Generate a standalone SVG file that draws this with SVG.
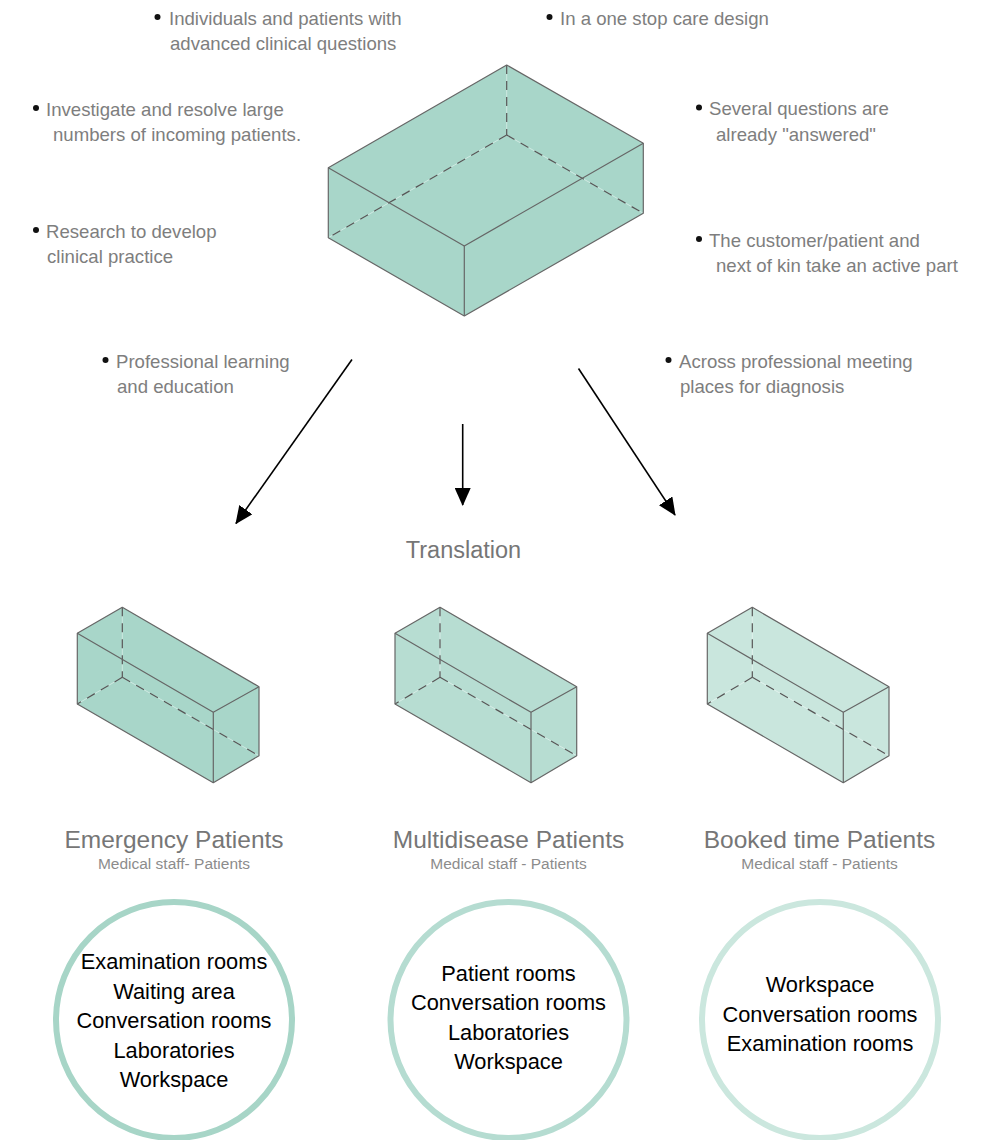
<svg xmlns="http://www.w3.org/2000/svg" width="989" height="1140" viewBox="0 0 989 1140">
  <style>
    .note { font-family: "Liberation Sans", Arial, sans-serif; font-size: 18.6px; fill: #7e7e7e; }
    .dot { fill: #111; }
    .edge { fill: none; stroke: #666; stroke-width: 1.2; stroke-linejoin: round; }
    .hidden-base { fill: none; stroke: #ffffff; stroke-opacity: 0.45; stroke-width: 1; }
    .hidden { fill: none; stroke: #555; stroke-width: 1.2; stroke-dasharray: 9 7; }
    .title { font-family: "Liberation Sans", Arial, sans-serif; font-size: 24.5px; fill: #767676; text-anchor: middle; }
    .sub { font-family: "Liberation Sans", Arial, sans-serif; font-size: 15.5px; fill: #8c8c8c; text-anchor: middle; }
    .room { font-family: "Liberation Sans", Arial, sans-serif; font-size: 21.8px; fill: #000; text-anchor: middle; }
    .ring { fill: none; stroke-width: 6; }
    .arrow { fill: none; stroke: #000; stroke-width: 1.6; marker-end: url(#head); }
  </style>
  <defs>
    <marker id="head" viewBox="0 0 18 16" refX="17" refY="8" markerWidth="18" markerHeight="16" markerUnits="userSpaceOnUse" orient="auto">
      <path d="M0,0 L18,8 L0,16 Z" fill="#000"/>
    </marker>
  </defs>

  <rect width="989" height="1140" fill="#ffffff"/>

  <!-- main care unit block -->
  <g id="main-block">
    <polygon points="506.7,65 643.3,143.3 643.3,213.3 464.3,316 328.3,237.7 328.3,167.7" fill="#a8d6c9"/>
    <polyline class="hidden-base" points="506.7,65 506.7,135"/>
    <polyline class="hidden-base" points="328.3,237.7 506.7,135 643.3,213.3"/>
    <polyline class="hidden" points="506.7,65 506.7,135"/>
    <polyline class="hidden" points="506.7,135 328.3,237.7"/>
    <polyline class="hidden" points="506.7,135 643.3,213.3"/>
    <polygon class="edge" points="506.7,65 643.3,143.3 643.3,213.3 464.3,316 328.3,237.7 328.3,167.7"/>
    <polyline class="edge" points="328.3,167.7 464.3,246 643.3,143.3"/>
    <line class="edge" x1="464.3" y1="246" x2="464.3" y2="316"/>
  </g>

  <!-- bullet notes around the main block -->
  <g id="note-individuals">
    <circle class="dot" cx="157.5" cy="17" r="3"/>
    <text class="note" x="169" y="24.5">Individuals and patients with</text>
    <text class="note" x="170" y="49.5">advanced clinical questions</text>
  </g>
  <g id="note-one-stop">
    <circle class="dot" cx="549.5" cy="17" r="3"/>
    <text class="note" x="560" y="24.5">In a one stop care design</text>
  </g>
  <g id="note-investigate">
    <circle class="dot" cx="36" cy="108" r="3"/>
    <text class="note" x="46" y="115.5">Investigate and resolve large</text>
    <text class="note" x="53" y="140.5">numbers of incoming patients.</text>
  </g>
  <g id="note-research">
    <circle class="dot" cx="36" cy="230" r="3"/>
    <text class="note" x="46" y="237.5">Research to develop</text>
    <text class="note" x="47" y="262.5">clinical practice</text>
  </g>
  <g id="note-learning">
    <circle class="dot" cx="105.5" cy="360" r="3"/>
    <text class="note" x="116" y="367.5">Professional learning</text>
    <text class="note" x="117" y="392.5">and education</text>
  </g>
  <g id="note-answered">
    <circle class="dot" cx="699" cy="107.5" r="3"/>
    <text class="note" x="709" y="115">Several questions are</text>
    <text class="note" x="716" y="140.5">already "answered"</text>
  </g>
  <g id="note-active">
    <circle class="dot" cx="699" cy="239" r="3"/>
    <text class="note" x="709" y="246.5">The customer/patient and</text>
    <text class="note" x="716" y="271.5">next of kin take an active part</text>
  </g>
  <g id="note-meeting">
    <circle class="dot" cx="668.5" cy="360" r="3"/>
    <text class="note" x="679" y="367.5">Across professional meeting</text>
    <text class="note" x="680" y="392.5">places for diagnosis</text>
  </g>

  <!-- connectors -->
  <g id="connectors">
    <line class="arrow" x1="352" y1="359.5" x2="236" y2="523.5"/>
    <line class="arrow" x1="462.7" y1="424" x2="462.7" y2="505"/>
    <line class="arrow" x1="578.5" y1="368.5" x2="675" y2="515"/>
  </g>

  <g id="translation-label">
    <text x="463.5" y="558" font-family="'Liberation Sans', Arial, sans-serif" font-size="23.5" fill="#767676" text-anchor="middle">Translation</text>
  </g>

  <!-- patient flow blocks -->
  <g id="block-emergency">
    <polygon points="122.3,607.3 259,686.7 259,755.7 213.3,782.7 77.3,704 77.3,633.3" fill="#a8d6c9"/>
    <polyline class="hidden-base" points="122.3,607.3 122.3,677.3"/>
    <polyline class="hidden-base" points="77.3,704 122.3,677.3 259,755.7"/>
    <polyline class="hidden" points="122.3,607.3 122.3,677.3"/>
    <polyline class="hidden" points="122.3,677.3 77.3,704"/>
    <polyline class="hidden" points="122.3,677.3 259,755.7"/>
    <polygon class="edge" points="122.3,607.3 259,686.7 259,755.7 213.3,782.7 77.3,704 77.3,633.3"/>
    <polyline class="edge" points="77.3,633.3 213.3,712.3 259,686.7"/>
    <line class="edge" x1="213.3" y1="712.3" x2="213.3" y2="782.7"/>
  </g>
  <g id="block-multidisease">
    <polygon points="440,607.3 576.7,686.7 576.7,755.7 531,782.7 395,704 395,633.3" fill="#b7ddd2"/>
    <polyline class="hidden-base" points="440,607.3 440,677.3"/>
    <polyline class="hidden-base" points="395,704 440,677.3 576.7,755.7"/>
    <polyline class="hidden" points="440,607.3 440,677.3"/>
    <polyline class="hidden" points="440,677.3 395,704"/>
    <polyline class="hidden" points="440,677.3 576.7,755.7"/>
    <polygon class="edge" points="440,607.3 576.7,686.7 576.7,755.7 531,782.7 395,704 395,633.3"/>
    <polyline class="edge" points="395,633.3 531,712.3 576.7,686.7"/>
    <line class="edge" x1="531" y1="712.3" x2="531" y2="782.7"/>
  </g>
  <g id="block-booked">
    <polygon points="752.3,607.3 889,686.7 889,755.7 843.3,782.7 707.3,704 707.3,633.3" fill="#c9e6dd"/>
    <polyline class="hidden-base" points="752.3,607.3 752.3,677.3"/>
    <polyline class="hidden-base" points="707.3,704 752.3,677.3 889,755.7"/>
    <polyline class="hidden" points="752.3,607.3 752.3,677.3"/>
    <polyline class="hidden" points="752.3,677.3 707.3,704"/>
    <polyline class="hidden" points="752.3,677.3 889,755.7"/>
    <polygon class="edge" points="752.3,607.3 889,686.7 889,755.7 843.3,782.7 707.3,704 707.3,633.3"/>
    <polyline class="edge" points="707.3,633.3 843.3,712.3 889,686.7"/>
    <line class="edge" x1="843.3" y1="712.3" x2="843.3" y2="782.7"/>
  </g>

  <!-- group titles -->
  <g id="title-emergency">
    <text class="title" x="174" y="848">Emergency Patients</text>
    <text class="sub" x="174" y="869">Medical staff- Patients</text>
  </g>
  <g id="title-multidisease">
    <text class="title" x="508.5" y="848">Multidisease Patients</text>
    <text class="sub" x="508.5" y="869">Medical staff - Patients</text>
  </g>
  <g id="title-booked">
    <text class="title" x="819.5" y="848">Booked time Patients</text>
    <text class="sub" x="819.5" y="869">Medical staff - Patients</text>
  </g>

  <!-- room programmes -->
  <g id="rooms-emergency">
    <circle class="ring" cx="174" cy="1020" r="118" stroke="#a7d5c7"/>
    <text class="room" x="174" y="969">Examination rooms</text>
    <text class="room" x="174" y="998.5">Waiting area</text>
    <text class="room" x="174" y="1028">Conversation rooms</text>
    <text class="room" x="174" y="1057.5">Laboratories</text>
    <text class="room" x="174" y="1087">Workspace</text>
  </g>
  <g id="rooms-multidisease">
    <circle class="ring" cx="508.5" cy="1020" r="118" stroke="#b5dcd1"/>
    <text class="room" x="508.5" y="980.5">Patient rooms</text>
    <text class="room" x="508.5" y="1010">Conversation rooms</text>
    <text class="room" x="508.5" y="1039.5">Laboratories</text>
    <text class="room" x="508.5" y="1069">Workspace</text>
  </g>
  <g id="rooms-booked">
    <circle class="ring" cx="820" cy="1020" r="118" stroke="#cbe7de"/>
    <text class="room" x="820" y="992">Workspace</text>
    <text class="room" x="820" y="1021.5">Conversation rooms</text>
    <text class="room" x="820" y="1051">Examination rooms</text>
  </g>
</svg>
